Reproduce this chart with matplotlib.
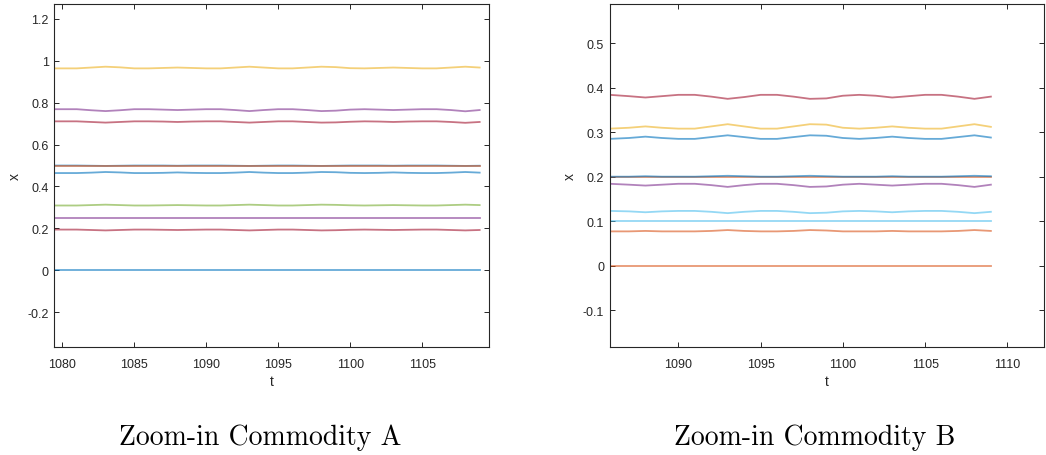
import matplotlib
matplotlib.use("Agg")
import matplotlib.pyplot as plt
from matplotlib.ticker import FormatStrFormatter

# -----------------------------
# DATA
# -----------------------------
# Commodity A: time axis
t_a = [1079.45, 1080, 1081, 1082, 1083, 1084, 1085, 1086, 1087, 1088, 1089,
       1090, 1091, 1092, 1093, 1094, 1095, 1096, 1097, 1098, 1099,
       1100, 1101, 1102, 1103, 1104, 1105, 1106, 1107, 1108, 1109]

a_yellow = [0.964, 0.964, 0.964, 0.968, 0.972, 0.969, 0.964, 0.964, 0.966, 0.968, 0.966,
            0.964, 0.964, 0.968, 0.972, 0.968, 0.964, 0.964, 0.968, 0.972, 0.970,
            0.965, 0.964, 0.966, 0.968, 0.966, 0.964, 0.964, 0.968, 0.972, 0.968]
a_purple = [0.769, 0.769, 0.769, 0.764, 0.760, 0.764, 0.769, 0.769, 0.767, 0.765, 0.767,
            0.769, 0.769, 0.765, 0.760, 0.765, 0.769, 0.769, 0.765, 0.760, 0.762,
            0.767, 0.769, 0.767, 0.765, 0.767, 0.769, 0.769, 0.765, 0.759, 0.765]
a_red = [0.711, 0.711, 0.711, 0.708, 0.705, 0.708, 0.711, 0.711, 0.710, 0.708, 0.710,
         0.711, 0.711, 0.708, 0.705, 0.708, 0.711, 0.711, 0.708, 0.705, 0.706,
         0.709, 0.711, 0.710, 0.708, 0.710, 0.711, 0.711, 0.708, 0.704, 0.708]
a_blue_mid = [0.500, 0.500, 0.500, 0.499, 0.498, 0.499, 0.500, 0.500, 0.500, 0.499, 0.500,
              0.500, 0.500, 0.499, 0.498, 0.499, 0.500, 0.500, 0.499, 0.498, 0.499,
              0.500, 0.500, 0.500, 0.499, 0.500, 0.500, 0.500, 0.499, 0.498, 0.499]
a_orange = 0.5
a_blue = [0.464, 0.464, 0.464, 0.466, 0.469, 0.467, 0.464, 0.464, 0.465, 0.467, 0.465,
          0.464, 0.464, 0.466, 0.469, 0.466, 0.464, 0.464, 0.466, 0.469, 0.468,
          0.465, 0.464, 0.465, 0.467, 0.465, 0.464, 0.464, 0.466, 0.469, 0.466]
a_green = [0.309, 0.309, 0.309, 0.311, 0.313, 0.311, 0.309, 0.309, 0.310, 0.311, 0.310,
           0.309, 0.309, 0.311, 0.313, 0.311, 0.309, 0.309, 0.311, 0.313, 0.312,
           0.310, 0.309, 0.310, 0.311, 0.310, 0.309, 0.309, 0.311, 0.313, 0.311]
a_purple_low = 0.25
a_red_low = [0.194, 0.194, 0.194, 0.192, 0.190, 0.192, 0.194, 0.194, 0.193, 0.192, 0.193,
             0.194, 0.194, 0.192, 0.190, 0.192, 0.194, 0.194, 0.192, 0.190, 0.191,
             0.193, 0.194, 0.193, 0.192, 0.193, 0.194, 0.194, 0.192, 0.190, 0.192]
a_blue_zero = 0.0

# Commodity B: time axis
t_b = [1085.83, 1087, 1088, 1089, 1090, 1091, 1092, 1093, 1094, 1095, 1096,
       1097, 1098, 1099, 1100, 1101, 1102, 1103, 1104, 1105, 1106, 1107, 1108, 1109]

b_red = [0.384, 0.381, 0.378, 0.381, 0.384, 0.384, 0.380, 0.375, 0.379, 0.384, 0.384,
         0.380, 0.375, 0.376, 0.382, 0.384, 0.382, 0.378, 0.381, 0.384, 0.384, 0.380, 0.375, 0.380]
b_yellow = [0.308, 0.310, 0.313, 0.310, 0.308, 0.308, 0.313, 0.318, 0.313, 0.308, 0.308,
            0.313, 0.318, 0.317, 0.310, 0.308, 0.310, 0.313, 0.310, 0.308, 0.308, 0.313, 0.318, 0.312]
b_blue = [0.285, 0.287, 0.290, 0.287, 0.285, 0.285, 0.289, 0.293, 0.289, 0.285, 0.285,
          0.289, 0.293, 0.292, 0.287, 0.285, 0.287, 0.290, 0.287, 0.285, 0.285, 0.289, 0.293, 0.288]
b_orange_mid = 0.2
b_blue_mid = [0.200, 0.200, 0.201, 0.200, 0.200, 0.200, 0.201, 0.202, 0.201, 0.200, 0.200,
              0.201, 0.202, 0.201, 0.200, 0.200, 0.200, 0.201, 0.200, 0.200, 0.200, 0.201, 0.202, 0.201]
b_purple = [0.184, 0.182, 0.180, 0.182, 0.184, 0.184, 0.181, 0.177, 0.181, 0.184, 0.184,
            0.181, 0.177, 0.178, 0.182, 0.184, 0.182, 0.180, 0.182, 0.184, 0.184, 0.181, 0.177, 0.182]
b_lightblue = [0.123, 0.122, 0.120, 0.122, 0.123, 0.123, 0.121, 0.118, 0.121, 0.123, 0.123,
               0.121, 0.118, 0.119, 0.122, 0.123, 0.122, 0.120, 0.122, 0.123, 0.123, 0.121, 0.118, 0.121]
b_lightblue_flat = 0.1
b_orange = [0.077, 0.077, 0.078, 0.077, 0.077, 0.077, 0.078, 0.080, 0.078, 0.077, 0.077,
            0.078, 0.080, 0.079, 0.077, 0.077, 0.077, 0.078, 0.077, 0.077, 0.077, 0.078, 0.080, 0.078]
b_orange_zero = 0.0

titles = ["Zoom-in Commodity A", "Zoom-in Commodity B"]

# -----------------------------
# STYLE
# -----------------------------
BLUE = (0.0, 0.447, 0.741)
ORANGE = (0.850, 0.325, 0.098)
YELLOW = (0.929, 0.694, 0.125)
PURPLE = (0.494, 0.184, 0.556)
GREEN = (0.466, 0.674, 0.188)
LBLUE = (0.301, 0.745, 0.933)
RED = (0.635, 0.078, 0.184)
AXCOL = "#262626"

plt.rcParams["font.family"] = ["Liberation Sans", "DejaVu Sans"]
plt.rcParams["axes.unicode_minus"] = False

LW = 1.3
ALPHA = 0.6


def const(v, t):
    return [v] * len(t)


def style_axes(ax):
    for sp in ax.spines.values():
        sp.set_color(AXCOL)
        sp.set_linewidth(0.8)
    ax.tick_params(direction="in", top=True, right=True, length=3.5,
                   width=0.7, color=AXCOL, labelcolor=AXCOL, labelsize=9)
    ax.tick_params(axis="x", pad=8)
    ax.tick_params(axis="y", pad=4)
    ax.yaxis.set_major_formatter(FormatStrFormatter("%g"))
    ax.set_xlabel("t", fontsize=10, color=AXCOL, labelpad=3)
    ax.set_ylabel("x", fontsize=10, color=AXCOL, labelpad=4)


fig = plt.figure(figsize=(10.46, 4.56), dpi=100)
ax1 = fig.add_axes([0.0519, 0.2368, 0.4156, 0.752])
ax2 = fig.add_axes([0.5829, 0.2368, 0.4152, 0.752])

# Commodity A
ax1.plot(t_a, const(a_blue_zero, t_a), color=BLUE, lw=LW, alpha=ALPHA)
ax1.plot(t_a, a_red_low, color=RED, lw=LW, alpha=ALPHA)
ax1.plot(t_a, const(a_purple_low, t_a), color=PURPLE, lw=LW, alpha=ALPHA)
ax1.plot(t_a, a_green, color=GREEN, lw=LW, alpha=ALPHA)
ax1.plot(t_a, a_blue, color=BLUE, lw=LW, alpha=ALPHA)
ax1.plot(t_a, a_blue_mid, color=BLUE, lw=LW, alpha=ALPHA)
ax1.plot(t_a, const(a_orange, t_a), color=ORANGE, lw=LW, alpha=ALPHA)
ax1.plot(t_a, a_red, color=RED, lw=LW, alpha=ALPHA)
ax1.plot(t_a, a_purple, color=PURPLE, lw=LW, alpha=ALPHA)
ax1.plot(t_a, a_yellow, color=YELLOW, lw=LW, alpha=ALPHA)
ax1.set_xlim(1079.44, 1109.65)
ax1.set_ylim(-0.367, 1.271)
ax1.set_xticks([1080, 1085, 1090, 1095, 1100, 1105])
ax1.set_yticks([-0.2, 0, 0.2, 0.4, 0.6, 0.8, 1.0, 1.2])
style_axes(ax1)

# Commodity B
ax2.plot(t_b, const(b_orange_zero, t_b), color=ORANGE, lw=LW, alpha=ALPHA)
ax2.plot(t_b, b_orange, color=ORANGE, lw=LW, alpha=ALPHA)
ax2.plot(t_b, const(b_lightblue_flat, t_b), color=LBLUE, lw=LW, alpha=ALPHA)
ax2.plot(t_b, b_lightblue, color=LBLUE, lw=LW, alpha=ALPHA)
ax2.plot(t_b, b_purple, color=PURPLE, lw=LW, alpha=ALPHA)
ax2.plot(t_b, const(b_orange_mid, t_b), color=ORANGE, lw=LW, alpha=ALPHA)
ax2.plot(t_b, b_blue_mid, color=BLUE, lw=LW, alpha=ALPHA)
ax2.plot(t_b, b_blue, color=BLUE, lw=LW, alpha=ALPHA)
ax2.plot(t_b, b_yellow, color=YELLOW, lw=LW, alpha=ALPHA)
ax2.plot(t_b, b_red, color=RED, lw=LW, alpha=ALPHA)
ax2.set_xlim(1085.83, 1112.23)
ax2.set_ylim(-0.183, 0.588)
ax2.set_xticks([1090, 1095, 1100, 1105, 1110])
ax2.set_yticks([-0.1, 0, 0.1, 0.2, 0.3, 0.4, 0.5])
style_axes(ax2)

# captions under each panel
fig.text(260 / 1046, 1 - 438 / 456, titles[0], family="cmr10", fontsize=20,
         ha="center", va="center", color="black")
fig.text(815 / 1046, 1 - 438 / 456, titles[1], family="cmr10", fontsize=20,
         ha="center", va="center", color="black")

fig.savefig("out.png", dpi=100)
